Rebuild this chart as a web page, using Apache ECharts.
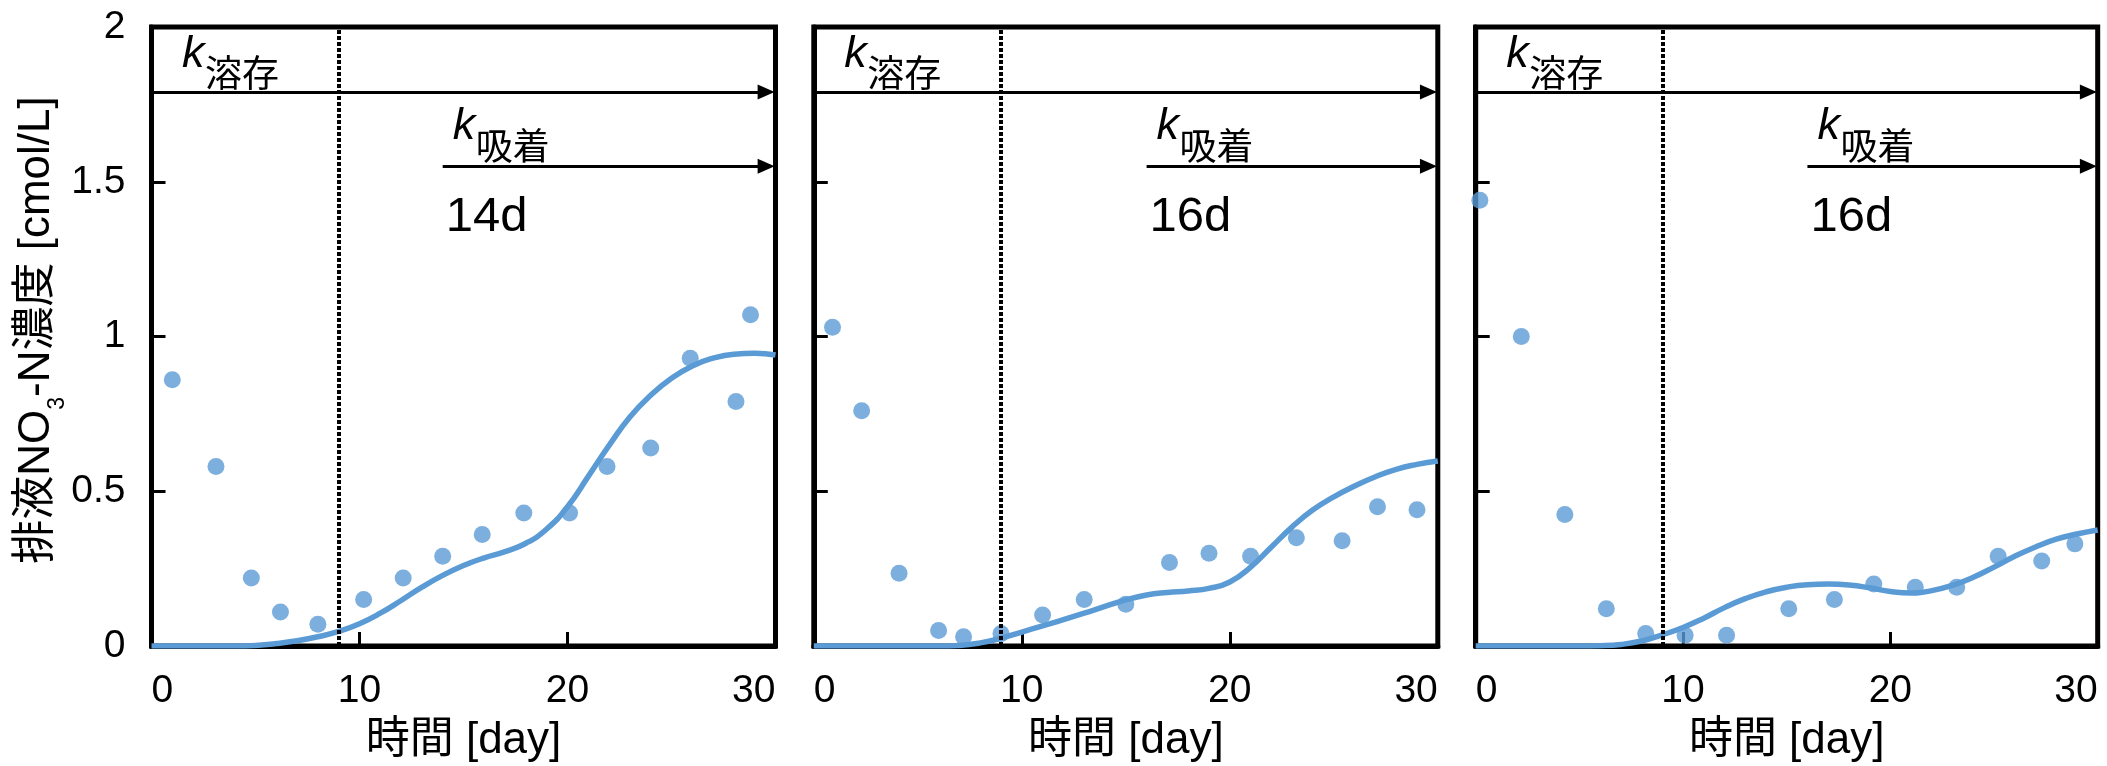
<!DOCTYPE html>
<html>
<head>
<meta charset="utf-8">
<script src="https://cdn.jsdelivr.net/npm/echarts@6/dist/echarts.min.js"></script>
<style>
  html, body { margin: 0; padding: 0; background: #fff; }
  #chart { width: 2107px; height: 766px; }
</style>
</head>
<body>
<div id="chart"></div>
<script>
// ---- data -------------------------------------------------------------
const xTicks = [0, 10, 20, 30];
const xTickLabels = ['0', '10', '20', '30'];
const yTickLabels = ['0', '0.5', '1', '1.5', '2'];

const sorptionLabels = ['14d', '16d', '16d'];
const sorptionStartDay = [14, 16, 16];
const phaseChangeDay = 9;

// measured NO3-N in the leachate [cmol/L]
const obsDays14 = [1.0, 3.1, 4.8, 6.2, 8.0, 10.2, 12.1, 14.0, 15.9, 17.9, 20.1, 21.9, 24.0, 25.9, 28.1, 28.8];
const obsConc14 = [0.86, 0.58, 0.22, 0.11, 0.07, 0.15, 0.22, 0.29, 0.36, 0.43, 0.43, 0.58, 0.64, 0.93, 0.79, 1.07];

const obsDays16a = [0.9, 2.3, 4.1, 6.0, 7.2, 9.0, 11.0, 13.0, 15.0, 17.1, 19.0, 21.0, 23.2, 25.4, 27.1, 29.0];
const obsConc16a = [1.03, 0.76, 0.235, 0.05, 0.03, 0.04, 0.10, 0.15, 0.135, 0.27, 0.30, 0.29, 0.35, 0.34, 0.45, 0.44];

const obsDays16b = [0.2, 2.2, 4.3, 6.3, 8.2, 10.1, 12.1, 15.1, 17.3, 19.2, 21.2, 23.2, 25.2, 27.3, 28.9];
const obsConc16b = [1.44, 1.00, 0.425, 0.12, 0.04, 0.035, 0.035, 0.12, 0.15, 0.20, 0.19, 0.19, 0.29, 0.275, 0.33];

// model curves
const fitDays = [0, 1, 2, 3, 4, 5, 6, 7, 8, 9, 10, 11, 12, 13, 14, 15, 16, 17, 18, 19, 20, 21, 22, 23, 24, 25, 26, 27, 28, 29, 30];
const fitConc14 = [0, 0, 0, 0, 0, 0.002, 0.008, 0.017, 0.03, 0.047, 0.072, 0.106, 0.147, 0.19, 0.228, 0.26, 0.285, 0.305, 0.332, 0.378, 0.45, 0.548, 0.648, 0.74, 0.81, 0.865, 0.905, 0.93, 0.943, 0.946, 0.94];
const fitConc16a = [0, 0, 0, 0, 0, 0, 0, 0.002, 0.01, 0.025, 0.045, 0.065, 0.085, 0.106, 0.128, 0.149, 0.165, 0.173, 0.178, 0.186, 0.207, 0.255, 0.32, 0.385, 0.44, 0.482, 0.517, 0.547, 0.571, 0.587, 0.598];
const fitConc16b = [0, 0, 0, 0, 0, 0, 0.001, 0.005, 0.016, 0.036, 0.06, 0.09, 0.124, 0.153, 0.175, 0.19, 0.198, 0.2, 0.197, 0.188, 0.176, 0.171, 0.179, 0.196, 0.222, 0.255, 0.29, 0.32, 0.345, 0.362, 0.375];

// ---- styling ----------------------------------------------------------
const LATIN = "'Liberation Sans', 'Noto Sans CJK JP', sans-serif";
const CJK = "'Noto Sans CJK JP', sans-serif";
const BLUE = '#5B9BD5';
const DISSOLVED_LEVEL = 1.79;
const SORPTION_LEVEL = 1.55;
const ARROW_TIP = 29.55;

const panels = [
  { obsX: obsDays14,  obsY: obsConc14,  fit: fitConc14 },
  { obsX: obsDays16a, obsY: obsConc16a, fit: fitConc16a },
  { obsX: obsDays16b, obsY: obsConc16b, fit: fitConc16b }
];

const gridBoxes = [
  { left: 151.5, width: 624 },
  { left: 813.8, width: 624 },
  { left: 1475.7, width: 622 }
];

const pair = (xs, ys) => xs.map((x, i) => [x, ys[i]]);

const option = {
  animation: false,
  backgroundColor: '#fff',
  grid: gridBoxes.map(b => ({
    left: b.left, width: b.width, top: 27, height: 619,
    show: true, borderColor: '#000', borderWidth: 5,
    backgroundColor: 'transparent',
    containLabel: false, outerBoundsMode: 'none'
  })),
  xAxis: panels.map((p, i) => ({
    type: 'value', gridIndex: i, min: 0, max: 30, interval: 10,
    axisLine: { show: true, lineStyle: { color: '#000', width: 5 } },
    axisTick: { show: true, inside: true, length: 14, lineStyle: { color: '#000', width: 3 } },
    splitLine: { show: false },
    axisLabel: {
      show: true, margin: 26, color: '#000', fontSize: 39, fontFamily: LATIN,
      alignMinLabel: 'left', alignMaxLabel: 'right',
      formatter: v => xTickLabels[xTicks.indexOf(v)]
    },
    name: '時間 [day]', nameLocation: 'middle', nameGap: 73,
    nameTextStyle: { color: '#000', fontSize: 44, fontFamily: LATIN }
  })),
  yAxis: panels.map((p, i) => ({
    type: 'value', gridIndex: i, min: 0, max: 2, interval: 0.5,
    axisLine: { show: true, lineStyle: { color: '#000', width: 5 } },
    axisTick: { show: true, inside: true, length: 14, lineStyle: { color: '#000', width: 3 } },
    splitLine: { show: false },
    axisLabel: {
      show: i === 0, margin: 26, color: '#000', fontSize: 39, fontFamily: LATIN,
      formatter: v => yTickLabels[Math.round(v * 2)]
    }
  })),
  series: []
};

panels.forEach((p, i) => {
  option.series.push({
    type: 'line', xAxisIndex: i, yAxisIndex: i,
    data: pair(fitDays, p.fit),
    smooth: 0.5, showSymbol: false, symbol: 'none',
    lineStyle: { color: BLUE, width: 5.5 },
    itemStyle: { color: BLUE },
    z: 2,
    markLine: {
      silent: true, animation: false,
      symbol: ['none', 'none'],
      label: { show: false },
      lineStyle: { color: '#000', width: 3, type: 'solid' },
      data: [
        [
          { coord: [0, DISSOLVED_LEVEL], symbol: 'none' },
          { coord: [ARROW_TIP, DISSOLVED_LEVEL], symbol: 'triangle', symbolSize: [15, 17] }
        ],
        [
          { coord: [sorptionStartDay[i], SORPTION_LEVEL], symbol: 'none' },
          { coord: [ARROW_TIP, SORPTION_LEVEL], symbol: 'triangle', symbolSize: [15, 17] }
        ],
        { xAxis: phaseChangeDay, lineStyle: { color: '#000', width: 4, type: [4, 2] } }
      ]
    }
  });
  option.series.push({
    type: 'scatter', xAxisIndex: i, yAxisIndex: i,
    data: pair(p.obsX, p.obsY),
    symbol: 'circle', symbolSize: 17,
    itemStyle: { color: BLUE },
    z: 3
  });
});

const chart = echarts.init(document.getElementById('chart'), null, { renderer: 'canvas' });
chart.setOption(option);

// ---- annotations (placed from data coordinates) -------------------------
function kLabel(x, y) {
  return { type: 'text', z: 50, style: {
    text: 'k', x: x, y: y, fill: '#000', align: 'left', verticalAlign: 'middle',
    fontStyle: 'italic', fontSize: 45, fontFamily: LATIN } };
}
function subLabel(x, y, txt) {
  return { type: 'text', z: 50, style: {
    text: txt, x: x, y: y, fill: '#000', align: 'left', verticalAlign: 'middle',
    fontSize: 37, fontFamily: CJK } };
}

const graphics = [];
panels.forEach((p, i) => {
  const toPx = d => chart.convertToPixel({ xAxisIndex: i, yAxisIndex: i }, d);
  const d0 = toPx([0, DISSOLVED_LEVEL]);
  graphics.push(kLabel(d0[0] + 30.5, d0[1] - 37.3));
  graphics.push(subLabel(d0[0] + 53.5, d0[1] - 19, '溶存'));

  const s0 = toPx([sorptionStartDay[i], SORPTION_LEVEL]);
  graphics.push(kLabel(s0[0] + 10, s0[1] - 39.3));
  graphics.push(subLabel(s0[0] + 33, s0[1] - 20.2, '吸着'));
  graphics.push({ type: 'text', z: 50, style: {
    text: sorptionLabels[i], x: s0[0] + 3, y: s0[1] + 51.3, fill: '#000',
    align: 'left', verticalAlign: 'middle', fontSize: 49, fontFamily: LATIN } });
});

// y-axis title with subscript
graphics.push({
  type: 'text', z: 50, x: 40, y: 330, rotation: Math.PI / 2,
  style: {
    text: '{a|排液NO}{b|3}{a|-N濃度 [cmol/L]}',
    align: 'center', verticalAlign: 'middle', fill: '#000',
    rich: {
      a: { fontSize: 44, lineHeight: 50, verticalAlign: 'top', fontFamily: LATIN, fill: '#000' },
      b: { fontSize: 23, lineHeight: 23, padding: [31, 0, 0, 0], verticalAlign: 'top', fontFamily: LATIN, fill: '#000' }
    }
  }
});

chart.setOption({ graphic: graphics });
</script>
</body>
</html>
